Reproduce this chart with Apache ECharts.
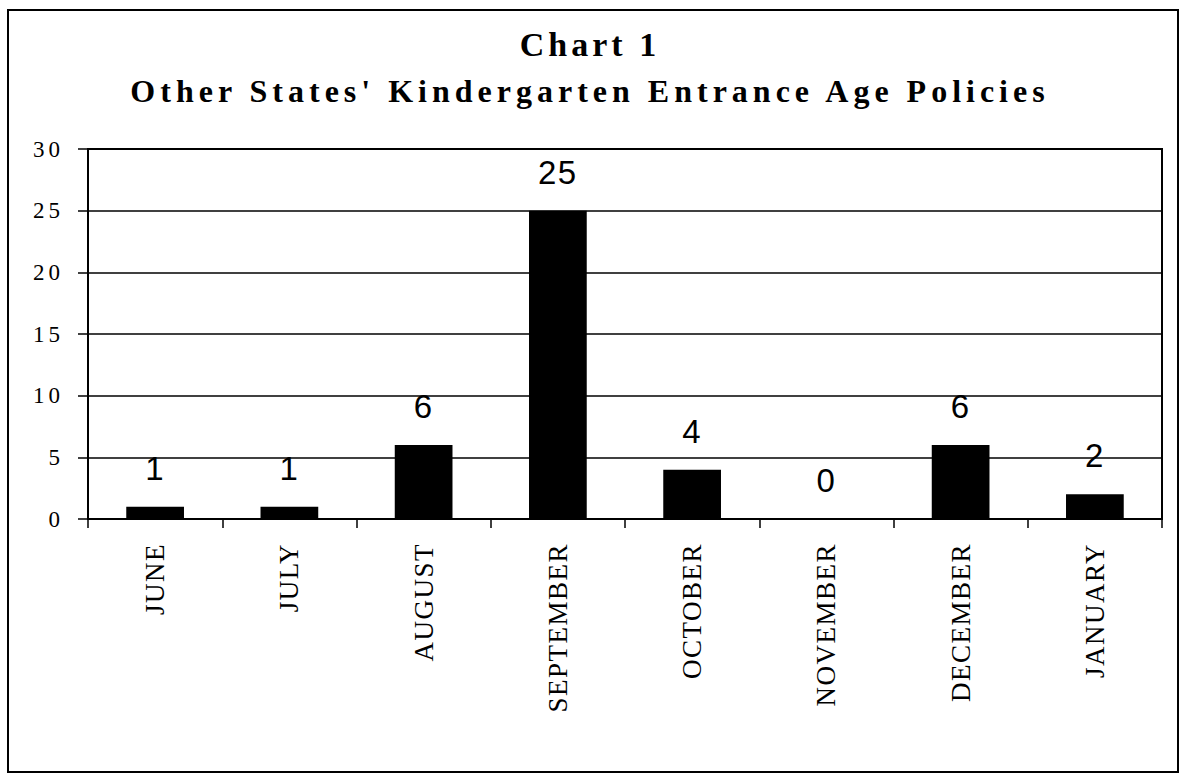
<!DOCTYPE html>
<html>
<head>
<meta charset="utf-8">
<title>Chart 1</title>
<script src="https://cdn.jsdelivr.net/npm/echarts@6/dist/echarts.min.js"></script>
<style>
html, body { margin: 0; padding: 0; background: #fff; }
#chart { width: 1180px; height: 774px; }
</style>
</head>
<body>
<div id="chart"></div>
<script>
// chart data
const months = ["JUNE", "JULY", "AUGUST", "SEPTEMBER", "OCTOBER", "NOVEMBER", "DECEMBER", "JANUARY"];
const stateCounts = [1, 1, 6, 25, 4, 0, 6, 2];
const yTicks = [0, 5, 10, 15, 20, 25, 30];

const titleLine1 = "Chart 1";
const titleLine2 = "Other States' Kindergarten Entrance Age Policies";

const SERIF = "'Liberation Serif', 'Times New Roman', Times, serif";
const SANS = "'Liberation Sans', Arial, Helvetica, sans-serif";

// the scan has wide letter spacing, keyed by font size
const LETTER_SPACING = { 34: 4, 32: 5, 23: 4, 27: 1.5, 33: 1.5 };

const chart = echarts.init(document.getElementById("chart"), null, { renderer: "svg" });

const option = {
  animation: false,
  backgroundColor: "#fff",
  title: [
    {
      text: titleLine1,
      left: "center",
      top: 22,
      textStyle: { fontFamily: SERIF, fontSize: 34, fontWeight: "bold", color: "#000" },
    },
    {
      text: titleLine2,
      left: "center",
      top: 70,
      textStyle: { fontFamily: SERIF, fontSize: 32, fontWeight: "bold", color: "#000" },
    },
  ],
  graphic: [
    {
      // outer frame around the whole chart
      type: "rect",
      shape: { x: 8, y: 10, width: 1170, height: 762 },
      style: { fill: "none", stroke: "#000", lineWidth: 2 },
      silent: true,
    },
  ],
  grid: {
    left: 88,
    right: 18,
    top: 149,
    bottom: 255,
    show: true,
    borderColor: "#000",
    borderWidth: 2,
  },
  xAxis: {
    type: "category",
    data: months,
    axisLine: { lineStyle: { color: "#000", width: 2 } },
    axisTick: { show: true, length: 9, lineStyle: { color: "#000", width: 1.5 } },
    axisLabel: {
      rotate: 90,
      interval: 0,
      margin: 24,
      color: "#000",
      fontFamily: SERIF,
      fontSize: 27,
    },
  },
  yAxis: {
    type: "value",
    min: yTicks[0],
    max: yTicks[yTicks.length - 1],
    interval: yTicks[1] - yTicks[0],
    axisLine: { show: true, lineStyle: { color: "#000", width: 2 } },
    axisTick: { show: true, length: 10, lineStyle: { color: "#000", width: 1.5 } },
    axisLabel: {
      margin: 24,
      color: "#000",
      fontFamily: SERIF,
      fontSize: 23,
    },
    splitLine: { lineStyle: { color: "#000", width: 1.5 } },
  },
  series: [
    {
      type: "bar",
      data: stateCounts,
      barWidth: "43%",
      itemStyle: { color: "#000" },
      label: {
        show: true,
        position: "top",
        distance: 22,
        color: "#000",
        fontFamily: SANS,
        fontSize: 33,
      },
    },
  ],
};

// apply letter spacing to the svg text once drawn
const spaceText = () => {
  chart.getDom().querySelectorAll("text").forEach(t => {
    const fs = Math.round(parseFloat(getComputedStyle(t).fontSize));
    if (LETTER_SPACING[fs] !== undefined) {
      t.setAttribute("letter-spacing", LETTER_SPACING[fs]);
      t.style.letterSpacing = LETTER_SPACING[fs] + "px";
    }
  });
};

chart.on("finished", spaceText);
chart.setOption(option);
setTimeout(spaceText, 0);
setTimeout(spaceText, 100);
</script>
</body>
</html>
